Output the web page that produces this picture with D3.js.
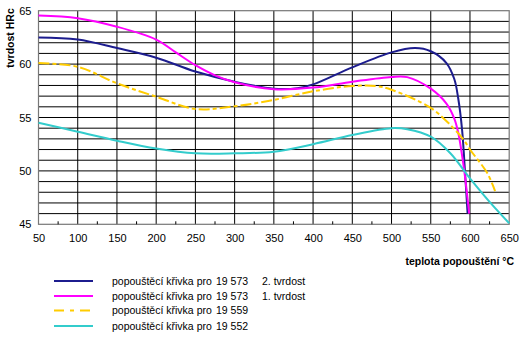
<!DOCTYPE html>
<html><head><meta charset="utf-8">
<script src="https://cdn.jsdelivr.net/npm/d3@7/dist/d3.min.js"></script>
<style>body{margin:0;background:#fff}svg{display:block;font-family:"Liberation Sans",Arial,sans-serif}</style>
</head><body>
<script>
const xTicks = [50,100,150,200,250,300,350,400,450,500,550,600,650];
const yTicks = [45,50,55,60,65];
const seriesNames = ["popouštěcí křivka pro", "popouštěcí křivka pro", "popouštěcí křivka pro", "popouštěcí křivka pro"];
const seriesSteel = ["19 573", "19 573", "19 559", "19 552"];
const seriesNote = ["2. tvrdost", "1. tvrdost", "", ""];
const seriesColors = ["#1c1c8e", "#ff00ff", "#ffcc00", "#33cccc"];
const blueX = [50,100,150,200,250,300,350,380,400,450,500,530,550,570,580,585,590,594,597];
const blueY = [62.5,62.3,61.5,60.6,59.3,58.35,57.7,57.75,58.1,59.7,61.1,61.5,61.2,60.1,58.6,56.8,53.8,49.5,46.0];
const magX = [50,100,150,200,225,250,275,300,350,400,450,500,520,550,570,580,585,592,596,599];
const magY = [64.55,64.3,63.5,62.3,61.1,59.9,58.95,58.3,57.65,57.8,58.35,58.8,58.78,57.7,56.3,54.9,53.6,50.4,48.0,46.0];
const yelX = [50,100,150,200,250,300,350,400,450,480,500,550,575,592,600,622,632];
const yelY = [60.1,59.75,58.2,56.95,55.8,56.05,56.65,57.45,57.95,57.95,57.6,55.9,54.3,52.9,52.0,49.8,48.1];
const cyaX = [50,100,150,200,250,300,350,400,450,500,520,550,575,600,625,650];
const cyaY = [54.5,53.67,52.83,52.1,51.65,51.65,51.8,52.5,53.36,54.0,53.9,53.2,51.65,49.3,47.1,45.1];
const seriesX = [blueX, magX, yelX, cyaX];
const seriesY = [blueY, magY, yelY, cyaY];
const dashes = [null, null, "11,3,4,3", null];

const W = 520, H = 339;
const svg = d3.select("body").append("svg").attr("width", W).attr("height", H);
const x = d3.scaleLinear().domain([50,650]).range([38.5,509.2]);
const y = d3.scaleLinear().domain([45,65]).range([224.3,10.7]);

// grid
const g = svg.append("g");
g.selectAll("line.h").data(d3.range(46,65)).enter().append("line")
  .attr("x1", x(50)).attr("x2", x(650)).attr("y1", d=>y(d)).attr("y2", d=>y(d))
  .attr("stroke", "#000").attr("stroke-width", 1);
g.selectAll("line.v").data(xTicks.slice(1,-1)).enter().append("line")
  .attr("x1", d=>x(d)).attr("x2", d=>x(d)).attr("y1", y(65)).attr("y2", y(45))
  .attr("stroke", "#000").attr("stroke-width", 1);
// border
g.append("rect").attr("x", x(50)).attr("y", y(65)).attr("width", x(650)-x(50)).attr("height", y(45)-y(65))
  .attr("fill", "none").attr("stroke", "#777").attr("stroke-width", 1.2);
// minor ticks
g.selectAll("line.m").data(d3.range(75,650,50)).enter().append("line")
  .attr("x1", d=>x(d)).attr("x2", d=>x(d)).attr("y1", y(45)).attr("y2", y(45)-3)
  .attr("stroke", "#000").attr("stroke-width", 1);

// axes labels
const xAxis = d3.axisBottom(x).tickValues(xTicks).tickSize(0).tickPadding(10);
const xa = svg.append("g").attr("transform", `translate(0,${y(45)})`).call(xAxis);
xa.select(".domain").remove();
xa.selectAll("text").attr("font-size", 11).attr("font-family", "Liberation Sans, Arial, sans-serif").attr("fill", "#000");
const yAxis = d3.axisLeft(y).tickValues(yTicks).tickSize(0).tickPadding(7);
const ya = svg.append("g").attr("transform", `translate(${x(50)},0)`).call(yAxis);
ya.select(".domain").remove();
ya.selectAll("text").attr("font-size", 11).attr("font-family", "Liberation Sans, Arial, sans-serif").attr("fill", "#000");

svg.append("text").attr("transform", "translate(13.5,38) rotate(-90)").attr("text-anchor", "middle")
  .attr("font-size", 10.5).attr("font-weight", "bold").text("tvrdost HRc");
svg.append("text").attr("x", 514).attr("y", 265).attr("text-anchor", "end")
  .attr("font-size", 10.5).attr("font-weight", "bold").text("teplota popouštění °C");

// curves
const line = d3.line().x(d=>x(d[0])).y(d=>y(d[1])).curve(d3.curveCatmullRom.alpha(0.5));
seriesX.forEach((xs, i) => {
  const pts = xs.map((v, j) => [v, seriesY[i][j]]);
  svg.append("path").attr("d", line(pts)).attr("fill", "none")
    .attr("stroke", seriesColors[i]).attr("stroke-width", 2)
    .attr("stroke-dasharray", dashes[i]);
});

// legend
const ly = [281, 296, 310.5, 326];
seriesNames.forEach((n, i) => {
  svg.append("line").attr("x1", 54).attr("x2", 93).attr("y1", ly[i]).attr("y2", ly[i])
    .attr("stroke", seriesColors[i]).attr("stroke-width", 2).attr("stroke-dasharray", dashes[i] ? "10,6,4,6" : null);
  svg.append("text").attr("x", 112).attr("y", ly[i]+3.8).attr("font-size", 10.5).text(n);
  svg.append("text").attr("x", 216).attr("y", ly[i]+3.8).attr("font-size", 10.5).text(seriesSteel[i]);
  if (seriesNote[i]) svg.append("text").attr("x", 262).attr("y", ly[i]+3.8).attr("font-size", 10.5).text(seriesNote[i]);
});
</script>
</body></html>
